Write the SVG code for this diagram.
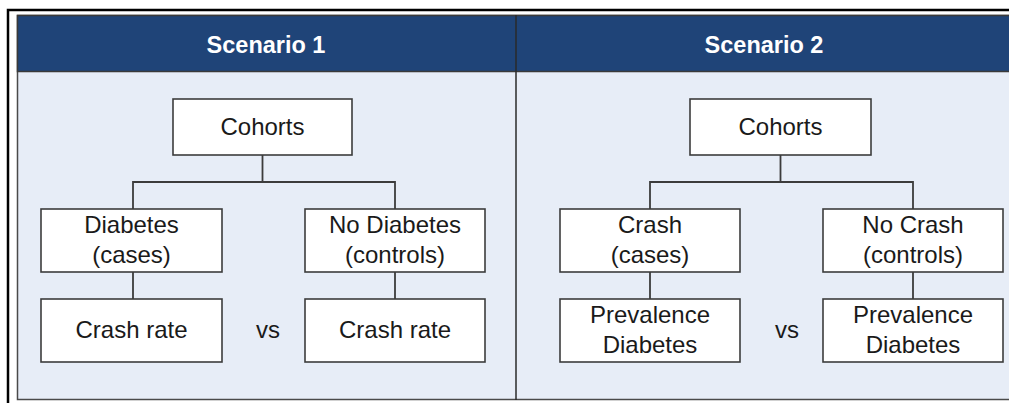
<svg xmlns="http://www.w3.org/2000/svg" width="1009" height="403" viewBox="0 0 1009 403">
<style>
.box{fill:#fff;stroke:#3c3c3c;stroke-width:1.6}
.t{font-family:"Liberation Sans",Arial,sans-serif;font-size:24px;fill:#1a1a1a;text-anchor:middle}
.h{font-family:"Liberation Sans",Arial,sans-serif;font-size:23.5px;font-weight:bold;fill:#fff;text-anchor:middle}
.c{fill:none;stroke:#3c3c3c;stroke-width:1.8}
</style>
<rect x="0" y="0" width="1009" height="403" fill="#fff"/>
<g id="frame">
<path d="M8 403 V10 H1009" fill="none" stroke="#000" stroke-width="2.5"/>
<rect x="17.5" y="15.5" width="1000" height="384" fill="#E7EDF7" stroke="#4a4a4a" stroke-width="1.5"/>
<rect x="17.5" y="15.5" width="1000" height="56" fill="#1F4478" stroke="#3a3a3a" stroke-width="1.5"/>
<line x1="516" y1="15" x2="516" y2="400" stroke="#2a2a2a" stroke-width="1.5"/>
<text class="h" x="266" y="52.5">Scenario 1</text>
<text class="h" x="764" y="52.5">Scenario 2</text>
</g>
<g id="connectors">
<path class="c" d="M262.5 155 V182 M133 209 V182 H395 V209 M133 272 V299 M395 272 V299"/>
<path class="c" d="M780.5 155 V182 M650 209 V182 H913 V209 M650 272 V299 M913 272 V299"/>
</g>
<g id="s1-cohorts"><rect class="box" x="173" y="99" width="179" height="56"/><text class="t" x="262.5" y="135">Cohorts</text></g>
<g id="s1-diabetes"><rect class="box" x="41" y="209" width="181" height="63"/><text class="t" x="131.5" y="232.5">Diabetes</text><text class="t" x="131.5" y="262.5">(cases)</text></g>
<g id="s1-nodiabetes"><rect class="box" x="305" y="209" width="180" height="63"/><text class="t" x="395" y="232.5">No Diabetes</text><text class="t" x="395" y="262.5">(controls)</text></g>
<g id="s1-crash-l"><rect class="box" x="41" y="299" width="181" height="63"/><text class="t" x="131.5" y="337.5">Crash rate</text></g>
<g id="s1-crash-r"><rect class="box" x="305" y="299" width="180" height="63"/><text class="t" x="395" y="337.5">Crash rate</text></g>
<g id="s1-vs"><text class="t" x="268" y="337.5">vs</text></g>
<g id="s2-cohorts"><rect class="box" x="690" y="99" width="181" height="56"/><text class="t" x="780.5" y="135">Cohorts</text></g>
<g id="s2-crash"><rect class="box" x="560" y="209" width="180" height="63"/><text class="t" x="650" y="232.5">Crash</text><text class="t" x="650" y="262.5">(cases)</text></g>
<g id="s2-nocrash"><rect class="box" x="823" y="209" width="180" height="63"/><text class="t" x="913" y="232.5">No Crash</text><text class="t" x="913" y="262.5">(controls)</text></g>
<g id="s2-prev-l"><rect class="box" x="560" y="299" width="180" height="63"/><text class="t" x="650" y="322.5">Prevalence</text><text class="t" x="650" y="352.5">Diabetes</text></g>
<g id="s2-prev-r"><rect class="box" x="823" y="299" width="180" height="63"/><text class="t" x="913" y="322.5">Prevalence</text><text class="t" x="913" y="352.5">Diabetes</text></g>
<g id="s2-vs"><text class="t" x="787" y="337.5">vs</text></g>
</svg>
